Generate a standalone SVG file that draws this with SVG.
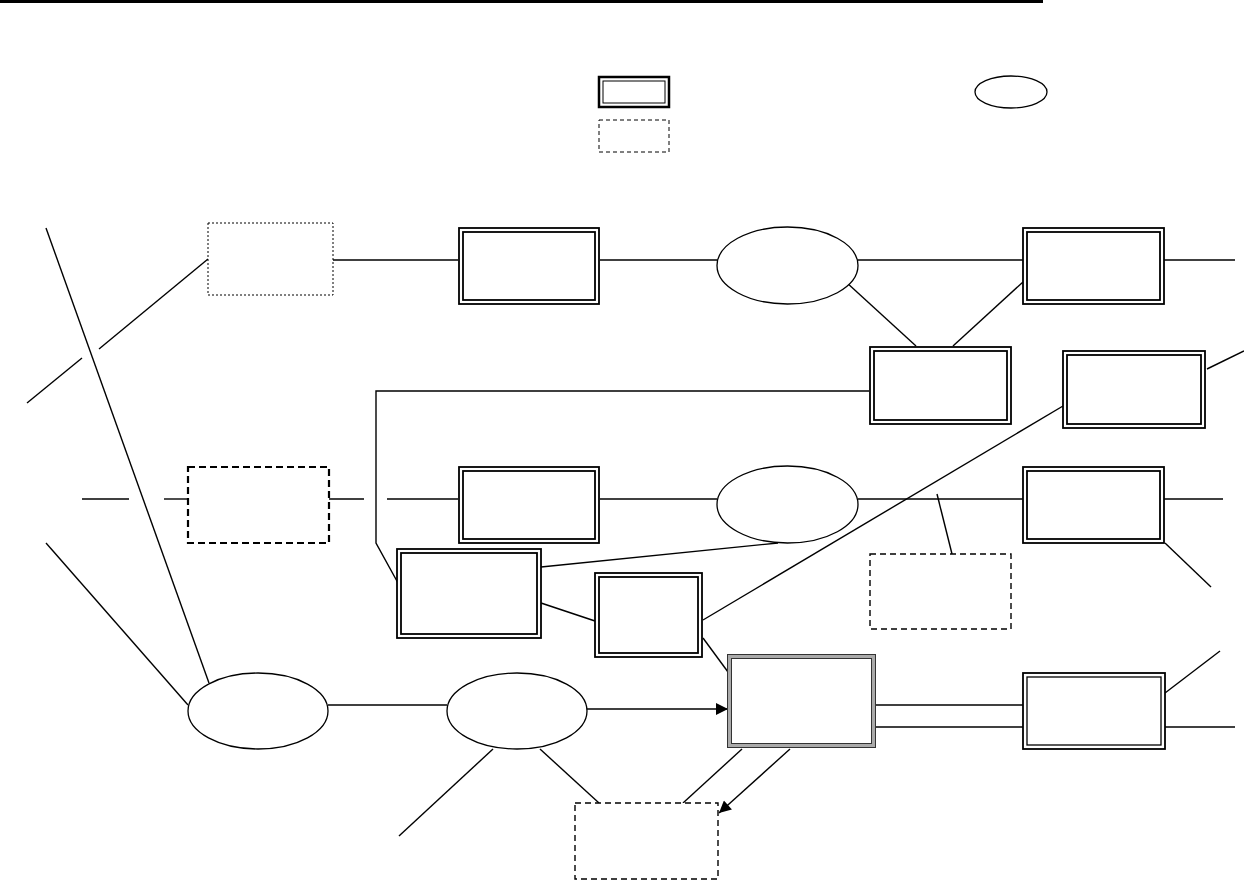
<svg xmlns="http://www.w3.org/2000/svg" width="1244" height="880" viewBox="0 0 1244 880">
<defs>
<style>
.c{stroke:#000;stroke-width:1.4;fill:none}
.o{fill:#fff;stroke:#000;stroke-width:1.8}
.i{fill:none;stroke:#000;stroke-width:1.8}
.el{fill:#fff;stroke:#000;stroke-width:1.3}
.dot{fill:#fff;stroke:#000;stroke-width:1;stroke-dasharray:2 2}
.dsh{fill:#fff;stroke:#000;stroke-width:1.4;stroke-dasharray:6 4}
.dshb{fill:#fff;stroke:#000;stroke-width:2.2;stroke-dasharray:7 4}
</style>
<marker id="ar" viewBox="0 0 10 10" refX="10" refY="5" markerWidth="10" markerHeight="10" markerUnits="userSpaceOnUse" orient="auto"><path d="M0,0 L10,5 L0,10 Z" fill="#000"/></marker>
<marker id="ar2" viewBox="0 0 10 10" refX="10" refY="5" markerWidth="14" markerHeight="12" markerUnits="userSpaceOnUse" orient="auto"><path d="M0,0 L10,5 L0,10 Z" fill="#000"/></marker>
</defs>
<rect x="0" y="0" width="1043" height="3" fill="#000"/>

<g id="legend-double">
<rect x="599" y="77" width="70" height="30" fill="#fff" stroke="#000" stroke-width="2.5"/>
<rect x="603" y="81" width="62" height="22" fill="none" stroke="#000" stroke-width="1"/>
</g>
<g id="legend-dashed"><rect x="599" y="120" width="70" height="32" fill="#fff" stroke="#000" stroke-width="1" stroke-dasharray="4 3"/></g>
<g id="legend-ellipse"><ellipse cx="1011" cy="92" rx="36" ry="16" class="el"/></g>

<g id="connectors">
<line class="c" x1="46" y1="228" x2="209" y2="683"/>
<line class="c" x1="208" y1="259" x2="99" y2="349"/>
<line class="c" x1="82" y1="358" x2="27" y2="403"/>
<line class="c" x1="333" y1="260" x2="458" y2="260"/>
<line class="c" x1="600" y1="260" x2="717" y2="260"/>
<line class="c" x1="858" y1="260" x2="1023" y2="260"/>
<line class="c" x1="1164" y1="260" x2="1235" y2="260"/>
<line class="c" x1="846" y1="282" x2="916" y2="346"/>
<line class="c" x1="953" y1="346" x2="1023" y2="282"/>
<line class="c" x1="1207" y1="369" x2="1244" y2="351"/>
<polyline class="c" points="869,391 376,391 376,543 398,583"/>
<line class="c" x1="82" y1="499" x2="129" y2="499"/>
<line class="c" x1="164" y1="499" x2="188" y2="499"/>
<line class="c" x1="329" y1="499" x2="364" y2="499"/>
<line class="c" x1="387" y1="499" x2="458" y2="499"/>
<line class="c" x1="600" y1="499" x2="717" y2="499"/>
<line class="c" x1="858" y1="499" x2="1023" y2="499"/>
<line class="c" x1="1164" y1="499" x2="1223" y2="499"/>
<line class="c" x1="937" y1="494" x2="952" y2="554"/>
<line class="c" x1="541" y1="567" x2="778" y2="543"/>
<line class="c" x1="541" y1="603" x2="595" y2="621"/>
<line class="c" x1="703" y1="620" x2="1063" y2="406"/>
<line class="c" x1="703" y1="638" x2="728" y2="672"/>
<line class="c" x1="1165" y1="543" x2="1211" y2="587"/>
<line class="c" x1="46" y1="543" x2="188" y2="705"/>
<line class="c" x1="328" y1="705" x2="447" y2="705"/>
<line class="c" x1="584" y1="709" x2="728" y2="709" marker-end="url(#ar2)"/>
<line class="c" x1="493" y1="749" x2="399" y2="836"/>
<line class="c" x1="540" y1="749" x2="599" y2="803"/>
<line class="c" x1="742" y1="749" x2="683" y2="803"/>
<line class="c" x1="790" y1="749" x2="719" y2="813" marker-end="url(#ar2)"/>
<line class="c" x1="875" y1="705" x2="1023" y2="705"/>
<line class="c" x1="875" y1="727" x2="1023" y2="727"/>
<line class="c" x1="1165" y1="693" x2="1220" y2="651"/>
<line class="c" x1="1165" y1="727" x2="1235" y2="727"/>
</g>

<g id="n-dotted-top"><rect class="dot" x="208" y="223" width="125" height="72"/></g>
<g id="n-double-1">
<rect class="o" x="459" y="228" width="140" height="76"/>
<rect class="i" x="463" y="232" width="132" height="68"/>
</g>
<g id="n-ellipse-top"><ellipse class="el" cx="787.5" cy="265.5" rx="70.5" ry="38.5"/></g>
<g id="n-double-2">
<rect class="o" x="1023" y="228" width="141" height="76"/>
<rect class="i" x="1027" y="232" width="133" height="68"/>
</g>
<g id="n-double-3">
<rect class="o" x="870" y="347" width="141" height="77"/>
<rect class="i" x="874" y="351" width="133" height="69"/>
</g>
<g id="n-double-4">
<rect class="o" x="1063" y="351" width="142" height="77"/>
<rect class="i" x="1067" y="355" width="134" height="69"/>
</g>
<g id="n-dashed-mid-left"><rect class="dshb" x="188" y="467" width="141" height="76"/></g>
<g id="n-double-5">
<rect class="o" x="459" y="467" width="140" height="76"/>
<rect class="i" x="463" y="471" width="132" height="68"/>
</g>
<g id="n-ellipse-mid"><ellipse class="el" cx="787.5" cy="504.5" rx="70.5" ry="38.5"/></g>
<g id="n-double-6">
<rect class="o" x="1023" y="467" width="141" height="76"/>
<rect class="i" x="1027" y="471" width="133" height="68"/>
</g>
<g id="n-double-7">
<rect class="o" x="397" y="549" width="144" height="89"/>
<rect class="i" x="401" y="553" width="136" height="81"/>
</g>
<g id="n-double-8">
<rect class="o" x="595" y="573" width="107" height="84"/>
<rect class="i" x="599" y="577" width="99" height="76"/>
</g>
<g id="n-dashed-mid-right"><rect class="dsh" x="870" y="554" width="141" height="75"/></g>
<g id="n-ellipse-left"><ellipse class="el" cx="258" cy="711" rx="70" ry="38"/></g>
<g id="n-ellipse-center"><ellipse class="el" cx="517" cy="711" rx="70" ry="38"/></g>
<g id="n-central">
<rect x="729.5" y="656.5" width="144" height="89" fill="#fff" stroke="#aaa" stroke-width="4"/>
<rect x="727.5" y="654.5" width="148" height="93" fill="none" stroke="#333" stroke-width="1"/>
<rect x="731.5" y="658.5" width="140" height="85" fill="none" stroke="#333" stroke-width="1"/>
</g>
<g id="n-double-9">
<rect class="o" x="1023" y="673" width="142" height="76"/>
<rect x="1027" y="677" width="134" height="68" fill="none" stroke="#000" stroke-width="1.3"/>
</g>
<g id="n-dashed-bottom"><rect class="dsh" x="575" y="803" width="143" height="76"/></g>
</svg>
